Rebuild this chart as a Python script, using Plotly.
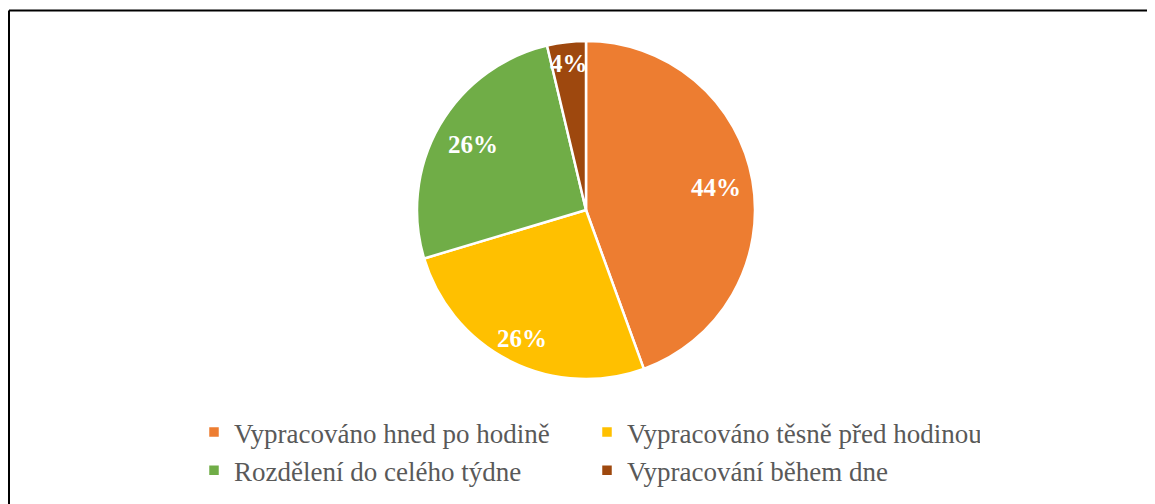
import math
import plotly.graph_objects as go

labels = ["Vypracováno hned po hodině", "Vypracováno těsně před hodinou",
          "Rozdělení do celého týdne", "Vypracování během dne"]
counts = [12, 7, 7, 1]
colors = ["#ED7D31", "#FFC000", "#70AD47", "#9E480E"]

# page has an 8px body margin, so the figure is drawn 8px smaller
W, H = 1147, 496
cx, cy, rad = 578, 202, 169  # pie centre / radius in figure pixels
# how far out (fraction of radius) each data label sits, like Excel's best fit
label_r = [0.78, 0.85, 0.77, 0.87]

fig = go.Figure(go.Pie(
    labels=labels,
    values=counts,
    sort=False,
    direction="clockwise",
    rotation=0,
    marker=dict(colors=colors, line=dict(color="white", width=2.5)),
    textinfo="none",
    domain=dict(x=[(cx - rad) / W, (cx + rad) / W],
                y=[1 - (cy + rad) / H, 1 - (cy - rad) / H]),
    hoverinfo="label+percent",
))

total = sum(counts)
start = 0.0
for v, lr in zip(counts, label_r):
    frac = v / total
    mid = (start + frac / 2) * 2 * math.pi
    start += frac
    rr = lr * rad
    fig.add_annotation(
        x=(cx + rr * math.sin(mid)) / W,
        y=1 - (cy - rr * math.cos(mid)) / H,
        xref="paper", yref="paper", showarrow=False,
        xanchor="center", yanchor="middle",
        text=f"{round(frac * 100)}%",
        font=dict(family="Liberation Serif", size=25, color="white", weight="bold"),
    )

# chart area border (cropped at right and bottom)
fig.add_shape(type="line", xref="paper", yref="paper",
              x0=1 / W, x1=1, y0=1 - 2.5 / H, y1=1 - 2.5 / H,
              line=dict(color="black", width=2))
fig.add_shape(type="line", xref="paper", yref="paper",
              x0=1 / W, x1=1 / W, y0=0, y1=1 - 2.5 / H,
              line=dict(color="black", width=2))

fig.update_layout(
    width=W, height=H,
    margin=dict(l=0, r=0, t=0, b=0),
    paper_bgcolor="white",
    plot_bgcolor="white",
    font=dict(family="Liberation Serif"),
    legend=dict(
        orientation="h",
        x=186 / W, xanchor="left",
        y=1 - 400 / H, yanchor="top",
        entrywidth=348, entrywidthmode="pixels",
        font=dict(family="Liberation Serif", size=27, color="#595959"),
        traceorder="normal",
    ),
)

fig.write_html("out.html")
